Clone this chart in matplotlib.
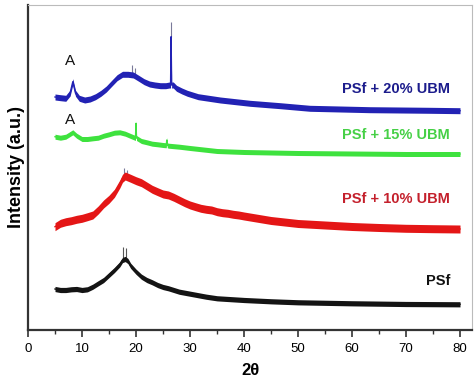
import matplotlib
matplotlib.use("Agg")
import matplotlib.pyplot as plt
import numpy as np
from matplotlib.ticker import MultipleLocator

plt.rcParams['font.family'] = ['Liberation Sans', 'DejaVu Sans']

# ---- data (2theta in degrees, intensity in arbitrary units, stacked) ----
x_20 = [5, 6, 7, 7.8, 8.3, 8.8, 9.5, 10.5, 11.5, 12.5, 13.5, 14.5, 15.5, 16.5, 17.5,
        18.5, 19.5, 20.5, 21.5, 22.5, 23.5, 24.5, 25.5, 26.2, 26.4, 26.5, 26.6, 26.9,
        27.5, 28.5, 29.5, 30.5, 31.5, 35.6, 41.1, 46.7, 52.2, 57.8,
        63.3, 68.9, 74.4, 80]
y_20 = [233, 232.3, 231.7, 237, 248.3, 236.7, 231.7, 230, 231, 233.3, 236.7, 241, 246.7,
        252.3, 255.7, 255.7, 255, 251.7, 248.3, 246, 245, 244.3, 244.3, 245, 245, 293.3,
        245, 245, 241.7, 239, 236.7, 235, 233.3, 230, 226.7, 224.3, 221.7, 221,
        220.3, 220, 219.7, 219.3]

x_15 = [5, 6, 7, 8.3, 9, 10, 11, 12, 13, 14, 15, 16, 17, 18, 19, 19.9, 20, 20.1, 21, 22,
        23, 24, 25, 25.6, 25.7, 25.8, 26, 28, 30, 35, 40, 50, 60, 70, 80]
y_15 = [193.3, 192.3, 193.3, 197.7, 194.3, 191, 191, 191.7, 192.3, 194.3, 195.7, 197.3,
        197.7, 196.3, 194, 192, 206.7, 192, 189, 187.7, 186.3, 185.7, 185, 184.7, 190,
        184.7, 184.3, 183.3, 182, 179, 178, 177, 176.5, 176, 176]

x_10 = [5, 6, 7, 8, 9, 10, 11, 12, 13, 14, 15, 16, 17, 17.5, 18, 19, 20, 21, 22, 23, 24,
        25, 26, 27, 28, 29, 30, 31, 32, 33, 34, 35, 36, 37, 38, 39, 40, 45, 50, 55, 60,
        65, 70, 75, 80]
y_10 = [103.3, 106.7, 108.3, 109.3, 110.7, 111.7, 113.3, 115, 120, 126, 130.7, 136.7,
        146, 151.7, 154, 151.7, 149.3, 147.3, 144, 140.7, 138.3, 136, 135, 132.7, 130,
        127.3, 125, 123.3, 121.7, 120.7, 120, 118.3, 117.3, 116.7, 115.7, 115, 114,
        109.5, 106.5, 105, 103.5, 102.5, 101.7, 101.3, 101]

x_0 = [5, 6, 7, 8, 9, 10, 11, 12, 13, 14, 15, 16, 17, 17.5, 18, 18.5, 19, 20, 21, 22, 23,
       24, 25, 26, 27, 28, 29, 30, 31, 32, 33, 35, 40, 45, 50, 60, 70, 80]
y_0 = [41, 40, 40, 40.7, 41, 40, 40.7, 43.3, 46.7, 50, 55, 60, 65.7, 70, 71, 69, 64.3,
       58.3, 53.3, 50, 47.7, 45, 43, 41.7, 40, 38.3, 37.3, 36.3, 35.3, 34.3, 33.3,
       31.7, 30, 28.7, 27.7, 26.7, 26, 25.7]

# visible noise spikes (x position, top value)
spk_20_x = [19.2, 19.9, 26.5]
spk_20_top = [265, 262, 308]
spk_10_x = [17.7, 18.3]
spk_10_top = [162, 160]
spk_0_x = [17.6, 18.2]
spk_0_top = [83, 82]

labels = ["PSf + 20% UBM", "PSf + 15% UBM", "PSf + 10% UBM", "PSf"]
label_y = [241, 195, 131, 49]
a_label_y = [269, 210]
xticks = [0, 10, 20, 30, 40, 50, 60, 70, 80]

# ---- styling ----
line_cols = ['#2222b4', '#3ee23e', '#e41616', '#141414']
text_cols = ['#1c1c8c', '#46d046', '#c4202c', '#111111']
half_w = [3.0, 2.5, 4.0, 2.6]

fig = plt.figure(figsize=(4.74, 3.80), dpi=100)
ax = fig.add_axes([28/474, 50/380, 444/474, 325/380])

series = [(x_20, y_20), (x_15, y_15), (x_10, y_10), (x_0, y_0)]
spikes = [(spk_20_x, spk_20_top, y_20, x_20), ([], [], y_15, x_15),
          (spk_10_x, spk_10_top, y_10, x_10), (spk_0_x, spk_0_top, y_0, x_0)]

for (xs, ys), col, hw, (sx, st, yy, xx) in zip(series, line_cols, half_w, spikes):
    xs = np.asarray(xs, float)
    ys = np.asarray(ys, float)
    if sx:
        base = np.interp(sx, xx, yy)
        ax.vlines(sx, base, st, color='#7a7a9a' if col != '#141414' else '#555555',
                  lw=0.8, zorder=2)
    ax.fill_between(xs, ys - hw, ys + hw, color=col, lw=0, zorder=3)
    ax.plot(xs, ys, color=col, lw=1.0, zorder=3)

for lab, ly, tc in zip(labels, label_y, text_cols):
    ax.text(422/5.4, ly, lab, ha='right', va='center', fontsize=10.5,
            fontweight='bold', color=tc, zorder=5)

for ay in a_label_y:
    ax.text(7.8, ay, "A", ha='center', va='center', fontsize=11, color='#111111')

ax.set_xlim(0, 444/5.4)
ax.set_ylim(0, 325)
ax.set_xticks(xticks)
ax.set_xticklabels([str(t) for t in xticks], fontsize=9.5)
ax.xaxis.set_minor_locator(MultipleLocator(5))
ax.tick_params(axis='x', which='major', direction='out', length=5, width=1.2, pad=4,
               color='#333333')
ax.tick_params(axis='x', which='minor', direction='out', length=3, width=1.0,
               color='#333333')
ax.set_yticks([])

for s in ['left', 'bottom']:
    ax.spines[s].set_linewidth(1.6)
    ax.spines[s].set_color('#333333')
for s in ['top', 'right']:
    ax.spines[s].set_linewidth(0.8)
    ax.spines[s].set_color('#bbbbbb')

ax.set_xlabel("2θ", fontsize=12, fontweight='bold', labelpad=6)
ax.set_ylabel("Intensity (a.u.)", fontsize=13, fontweight='bold', labelpad=2)

fig.savefig("out.png", dpi=100)
